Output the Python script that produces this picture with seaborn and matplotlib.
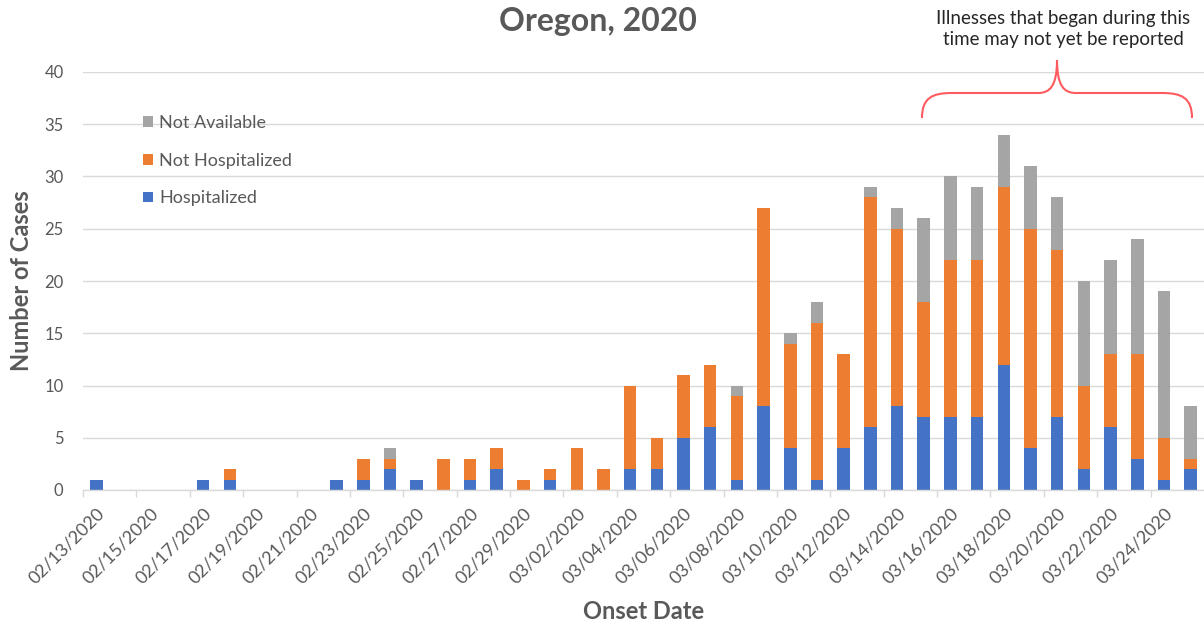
import matplotlib
matplotlib.use("Agg")
import matplotlib.pyplot as plt
from matplotlib.path import Path
from matplotlib.patches import PathPatch, Patch
import seaborn as sns
import pandas as pd
import numpy as np

dates = ["02/13/2020", "02/14/2020", "02/15/2020", "02/16/2020", "02/17/2020", "02/18/2020",
         "02/19/2020", "02/20/2020", "02/21/2020", "02/22/2020", "02/23/2020", "02/24/2020",
         "02/25/2020", "02/26/2020", "02/27/2020", "02/28/2020", "02/29/2020", "03/01/2020",
         "03/02/2020", "03/03/2020", "03/04/2020", "03/05/2020", "03/06/2020", "03/07/2020",
         "03/08/2020", "03/09/2020", "03/10/2020", "03/11/2020", "03/12/2020", "03/13/2020",
         "03/14/2020", "03/15/2020", "03/16/2020", "03/17/2020", "03/18/2020", "03/19/2020",
         "03/20/2020", "03/21/2020", "03/22/2020", "03/23/2020", "03/24/2020", "03/25/2020"]
hospitalized = [1, 0, 0, 0, 1, 1, 0, 0, 0, 1, 1, 2, 1, 0, 1, 2, 0, 1, 0, 0, 2, 2, 5, 6,
                1, 8, 4, 1, 4, 6, 8, 7, 7, 7, 12, 4, 7, 2, 6, 3, 1, 2]
not_hospitalized = [0, 0, 0, 0, 0, 1, 0, 0, 0, 0, 2, 1, 0, 3, 2, 2, 1, 1, 4, 2, 8, 3, 6, 6,
                    8, 19, 10, 15, 9, 22, 17, 11, 15, 15, 17, 21, 16, 8, 7, 10, 4, 1]
not_available = [0, 0, 0, 0, 0, 0, 0, 0, 0, 0, 0, 1, 0, 0, 0, 0, 0, 0, 0, 0, 0, 0, 0, 0,
                 1, 0, 1, 2, 0, 1, 2, 8, 8, 7, 5, 6, 5, 10, 9, 11, 14, 5]
series_names = ["Hospitalized", "Not Hospitalized", "Not Available"]
colors = ["#4472C4", "#ED7D31", "#A5A5A5"]
yticks = [0, 5, 10, 15, 20, 25, 30, 35, 40]

FONT = ["Lato", "DejaVu Sans"]
plt.rcParams["font.family"] = FONT
TXT = "#595959"

df = pd.DataFrame({"date": dates, "H": hospitalized, "NH": not_hospitalized, "NA": not_available})
df["lvl1"] = df["H"]
df["lvl2"] = df["H"] + df["NH"]
df["lvl3"] = df["H"] + df["NH"] + df["NA"]

W, H = 1204, 630
fig = plt.figure(figsize=(W / 100, H / 100), dpi=100)
ax = fig.add_axes([83 / W, 140 / H, (1204 - 83) / W, 418 / H])

for col, c in zip(["lvl3", "lvl2", "lvl1"], colors[::-1]):
    sns.barplot(data=df, x="date", y=col, order=dates, color=c, width=0.47,
                linewidth=0, saturation=1, errorbar=None, ax=ax)

ax.set_ylim(0, 40)
ax.set_xlim(-0.5, len(dates) - 0.5)
ax.set_yticks(yticks)
ax.set_yticklabels([str(v) for v in yticks], color=TXT, fontsize=12)
ax.tick_params(axis="y", length=0, pad=14)
ax.yaxis.grid(True, color="#D9D9D9", linewidth=1)
ax.set_axisbelow(True)

idx = np.arange(len(dates))
ax.set_xticks(idx[::2])
ax.set_xticklabels([dates[i] for i in idx[::2]], rotation=45, ha="right",
                   rotation_mode="anchor", color=TXT, fontsize=13)
ax.tick_params(axis="x", length=0, pad=11)
ax.set_xticks(idx[::2] - 0.5, minor=True)
ax.tick_params(axis="x", which="minor", length=5, color="#D9D9D9", width=1)

for s in ["top", "right", "left"]:
    ax.spines[s].set_visible(False)
ax.spines["bottom"].set_color("#D9D9D9")
ax.spines["bottom"].set_linewidth(1)

ax.set_xlabel("Onset Date", fontsize=17, fontweight="bold", color=TXT)
ax.xaxis.set_label_coords(0.5, (490 - 600) / 418)
ax.set_ylabel("Number of Cases", fontsize=17, fontweight="bold", color=TXT)
ax.yaxis.set_label_coords((33 - 83) / 1121, 0.5)
fig.text(598 / W, 1 - 22 / H, "Oregon, 2020", fontsize=23, fontweight="bold",
         color=TXT, ha="center", va="center")

handles = [Patch(facecolor=colors[i], edgecolor="none") for i in [2, 1, 0]]
labels = [series_names[i] for i in [2, 1, 0]]
fig.legend(handles, labels, loc="upper left", bbox_to_anchor=(134 / W, 1 - 106 / H),
           frameon=False, fontsize=13, labelcolor=TXT, handlelength=0.55,
           handleheight=0.55, handletextpad=0.35, labelspacing=1.2, borderpad=0)

fig.text(1063 / W, 1 - 29 / H, "Illnesses that began during this\ntime may not yet be reported",
         fontsize=13.5, color="#262626", ha="center", va="center", linespacing=1.3)

def P(x, y):
    return (x / W, 1 - y / H)

verts = [P(922, 118), P(922, 98), P(932, 93), P(952, 93), P(1038, 93),
         P(1050, 93), P(1057, 86), P(1057, 60),
         P(1057, 86), P(1064, 93), P(1076, 93), P(1162, 93),
         P(1182, 93), P(1192, 98), P(1192, 118)]
codes = [Path.MOVETO, Path.CURVE4, Path.CURVE4, Path.CURVE4, Path.LINETO,
         Path.CURVE4, Path.CURVE4, Path.CURVE4,
         Path.CURVE4, Path.CURVE4, Path.CURVE4, Path.LINETO,
         Path.CURVE4, Path.CURVE4, Path.CURVE4]
brace = PathPatch(Path(verts, codes), transform=fig.transFigure, facecolor="none",
                  edgecolor="#FF5A5F", linewidth=1.5)
fig.add_artist(brace)

fig.savefig("out.png", dpi=100)
